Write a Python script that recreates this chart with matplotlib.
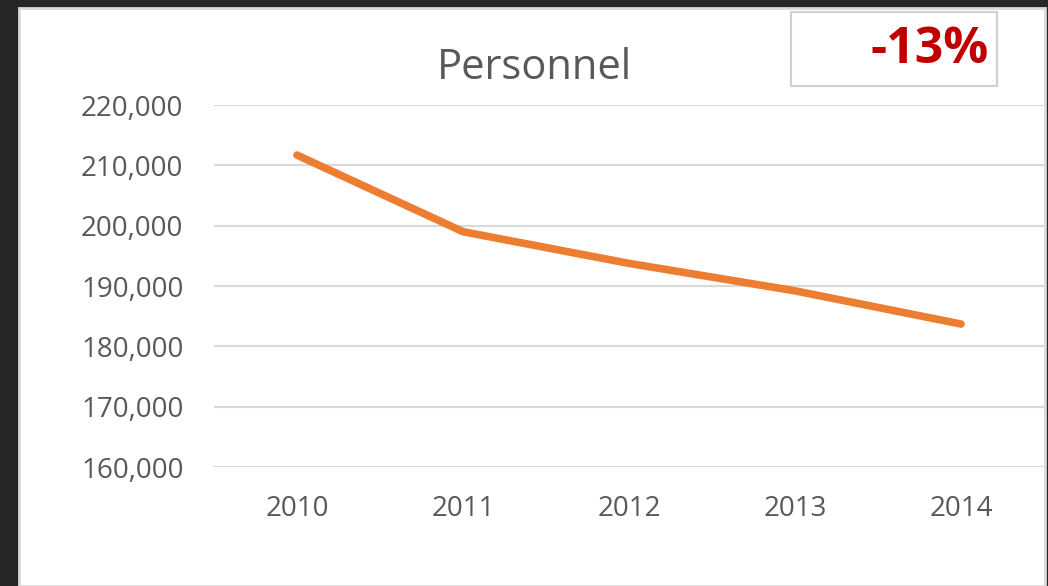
import matplotlib.pyplot as plt
from matplotlib.patches import Rectangle
from matplotlib.ticker import FuncFormatter

years = ['2010', '2011', '2012', '2013', '2014']
personnel = [211700, 199000, 193750, 189200, 183700]
change_label = '-13%'

W, H = 1048, 586
fig = plt.figure(figsize=(W / 100, H / 100), dpi=100)
fig.patch.set_facecolor('#262626')

# white chart panel
fig.patches.append(Rectangle((19 / W, 0), (1045 - 19) / W, (H - 8) / H,
                             transform=fig.transFigure, facecolor='white',
                             edgecolor='#d9d9d9', linewidth=2, zorder=0))

ax = fig.add_axes([214 / W, 1 - 467 / H, 830 / W, 362 / H])
ax.set_zorder(2)
ax.set_facecolor('none')
x = list(range(len(years)))
ax.plot(x, personnel, color='#ED7D31', linewidth=5.5, solid_capstyle='round',
        solid_joinstyle='round', zorder=3)

ax.set_xlim(-0.5, len(years) - 0.5)
ax.set_ylim(160000, 220000)
ax.set_yticks(range(160000, 220001, 10000))
ax.yaxis.set_major_formatter(FuncFormatter(lambda v, p: f'{int(v):,}'))
ax.set_xticks(x)
ax.set_xticklabels(years)
ax.grid(axis='y', color='#d9d9d9', linewidth=1.5)
ax.set_axisbelow(True)
for s in ax.spines.values():
    s.set_visible(False)
ax.tick_params(axis='both', length=0, labelsize=20, labelcolor='#595959')
ax.tick_params(axis='y', pad=22)
ax.tick_params(axis='x', pad=20)
for lab in ax.get_xticklabels() + ax.get_yticklabels():
    lab.set_fontfamily('Open Sans')

fig.text(534 / W, 1 - 68 / H, 'Personnel', ha='center', va='center',
         fontsize=30, color='#595959', family='Open Sans', zorder=3)

# change box
fig.patches.append(Rectangle((791 / W, 1 - 86 / H), (997 - 791) / W, (86 - 12) / H,
                             transform=fig.transFigure, facecolor='white',
                             edgecolor='#d0d0d0', linewidth=1.5, zorder=1))
fig.text(989 / W, 1 - 50 / H, change_label, ha='right', va='center',
         fontsize=36, fontweight='bold', color='#C00000', family='Open Sans',
         zorder=3)

fig.savefig('out.png', dpi=100, facecolor=fig.get_facecolor())
